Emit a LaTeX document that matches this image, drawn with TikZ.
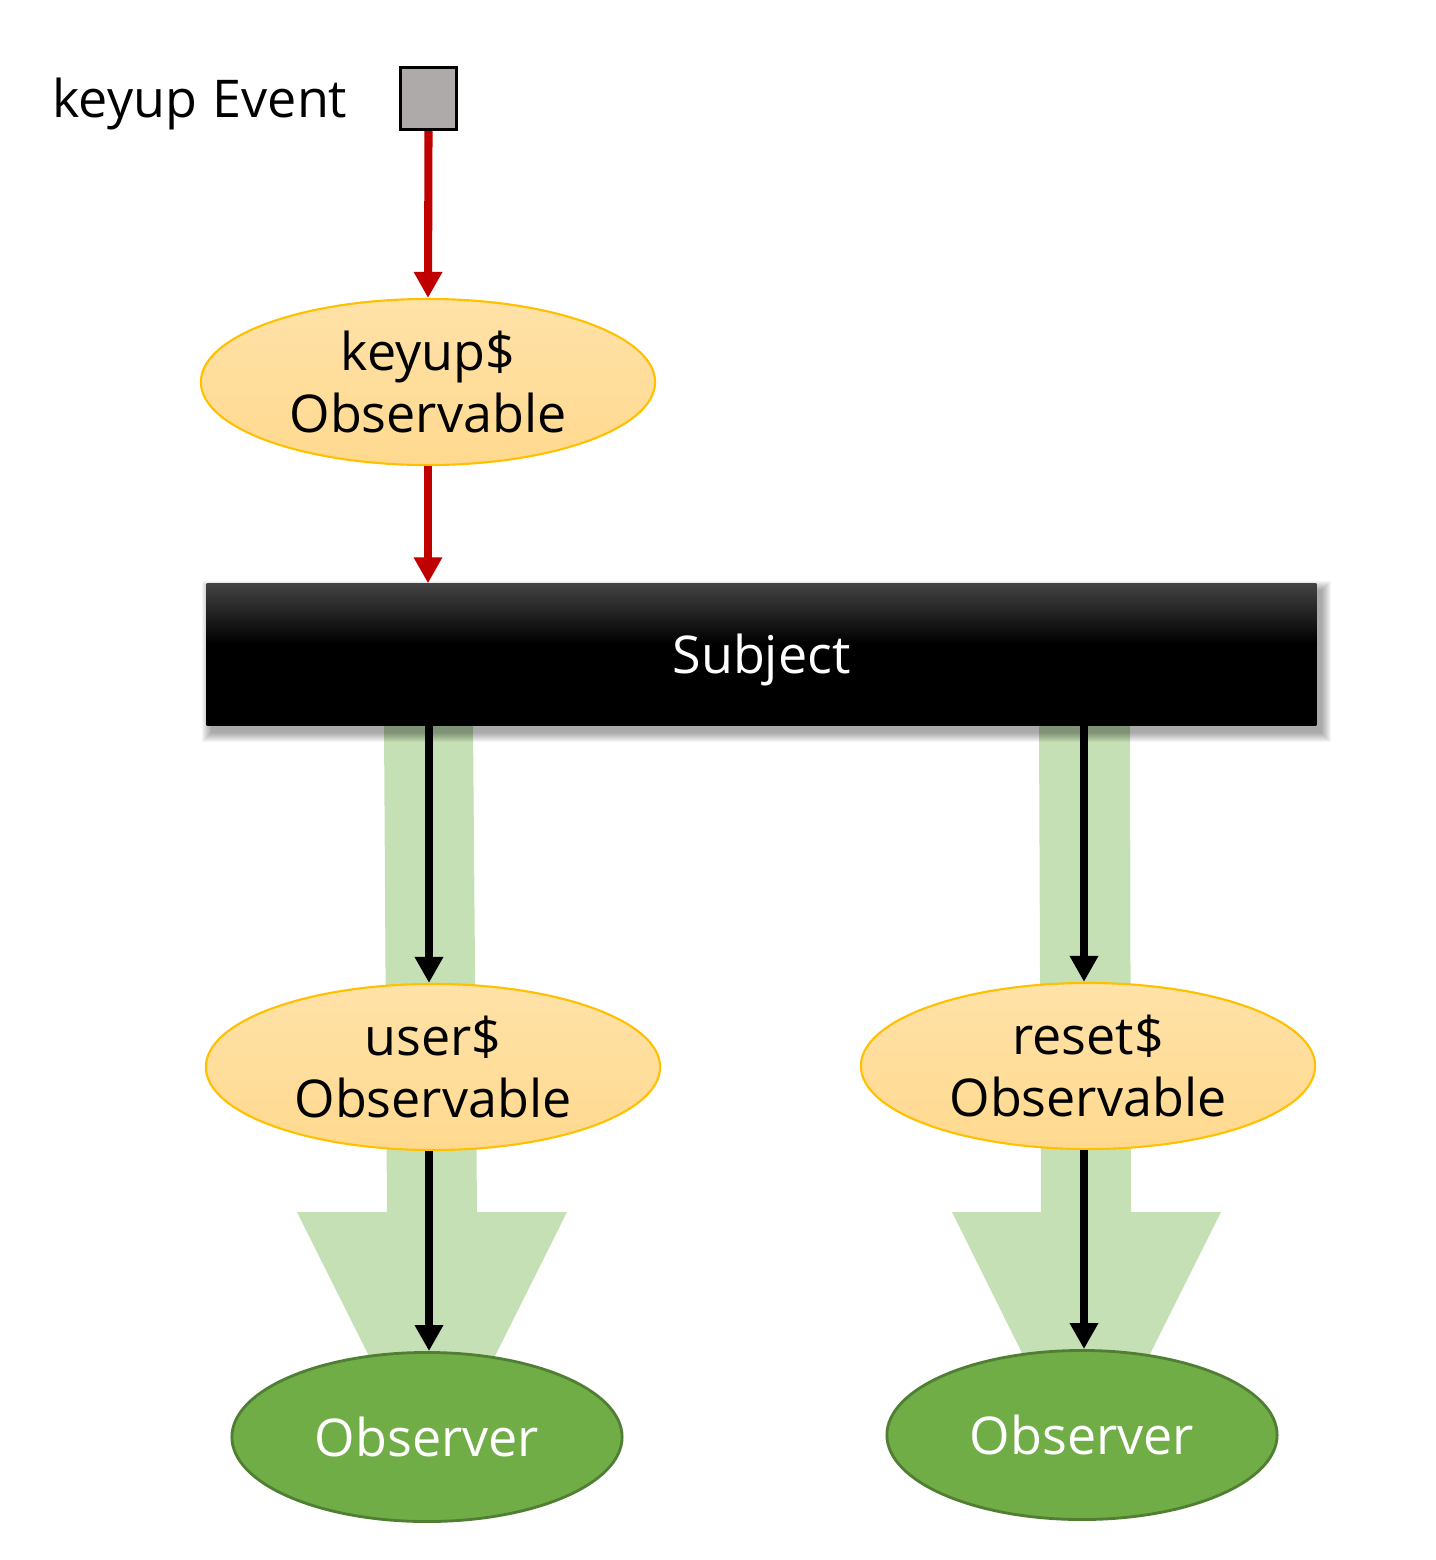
\documentclass[tikz,border=0pt]{standalone}
\usepackage{fontspec}
\setmainfont{Open Sans}
\usetikzlibrary{arrows.meta,shapes.geometric}
\definecolor{obsfill}{HTML}{FFD98F}
\definecolor{obsfilltop}{HTML}{FFE2A8}
\definecolor{obsline}{HTML}{FFC000}
\definecolor{redline}{HTML}{C00000}
\definecolor{band}{HTML}{C5E0B4}
\definecolor{grnfill}{HTML}{70AD47}
\definecolor{grnline}{HTML}{507E32}
\definecolor{sqfill}{HTML}{AEAAAA}
\definecolor{topgray}{HTML}{434343}
\pgfdeclareverticalshading{subjshade}{100bp}{color(0bp)=(black); color(54bp)=(black); color(75bp)=(topgray); color(100bp)=(topgray)}
\begin{document}
\begin{tikzpicture}[x=0.01cm,y=-0.01cm,
  txt/.style={font=\fontsize{14.8}{17.9}\selectfont, inner sep=0pt},
  obs/.style={ellipse, draw=obsline, line width=0.6pt, top color=obsfilltop, bottom color=obsfill,
    minimum width=4.54cm, minimum height=1.66cm, inner sep=0pt, align=center, txt},
  observer/.style={ellipse, draw=grnline, line width=0.8pt, fill=grnfill, text=white,
    minimum width=3.9cm, minimum height=1.69cm, inner sep=0pt, txt},
  redarr/.style={draw=redline, line width=2.3pt, -{Triangle[width=0.27cm,length=0.26cm]}},
  blkarr/.style={draw=black, line width=2.3pt, -{Triangle[width=0.27cm,length=0.26cm]}},
  bandst/.style={fill=band, draw=none}
]
\useasboundingbox (0,0) rectangle (1436,1560);

% green block arrows (behind)
\fill[bandst] (384,725) -- (473,725) -- (477,1212) -- (567,1212) -- (432,1482) -- (297,1212) -- (387,1212) -- cycle;
\fill[bandst] (1039,725) -- (1130,725) -- (1131,1212) -- (1221,1212) -- (1086,1482) -- (952,1212) -- (1041,1212) -- cycle;

% top label and square
\node[txt, anchor=west] (ev) at (52,104) {keyup\hspace{0.3em}Event};
\node[draw=black, line width=0.9pt, fill=sqfill, minimum width=0.56cm, minimum height=0.62cm, inner sep=0pt] (sq) at (428.5,98.5) {};

% keyup$ observable
\node[obs] (k) at (428,382) {keyup\$\\Observable};

% soft shadow of subject
\foreach \i in {1,...,10}{
  \fill[black, opacity=0.04] (207+5-\i,584+7-\i) rectangle (1316+5+\i,725+7+\i);
}
% subject
\node[shading=subjshade, minimum width=11.09cm, minimum height=1.41cm, inner sep=0pt] (subj) at (761.5,654.5) {};
\node[txt, text=white] (subjt) at (761.5,660) {Subject};

% user$ and reset$
\node[obs] (u) at (433,1067) {user\$\\Observable};
\node[obs] (r) at (1088,1066) {reset\$\\Observable};

% observers
\node[observer] (o1) at (427,1437) {Observer};
\node[observer] (o2) at (1082,1435) {Observer};

% arrow end points
\coordinate (un) at ([xshift=-0.04cm]u.north);
\coordinate (us) at ([xshift=-0.04cm]u.south);
\coordinate (rn) at ([xshift=-0.04cm]r.north);
\coordinate (rs) at ([xshift=-0.04cm]r.south);

% arrows
\draw[redarr] (sq.south) -- (k.north);
\draw[redarr] (k.south) -- (k.south |- subj.north);
\draw[blkarr] (subj.south -| un) -- (un);
\draw[blkarr] (subj.south -| rn) -- (rn);
\draw[blkarr] (us) -- (us |- o1.north);
\draw[blkarr] (rs) -- (rs |- o2.north);
\end{tikzpicture}
\end{document}
